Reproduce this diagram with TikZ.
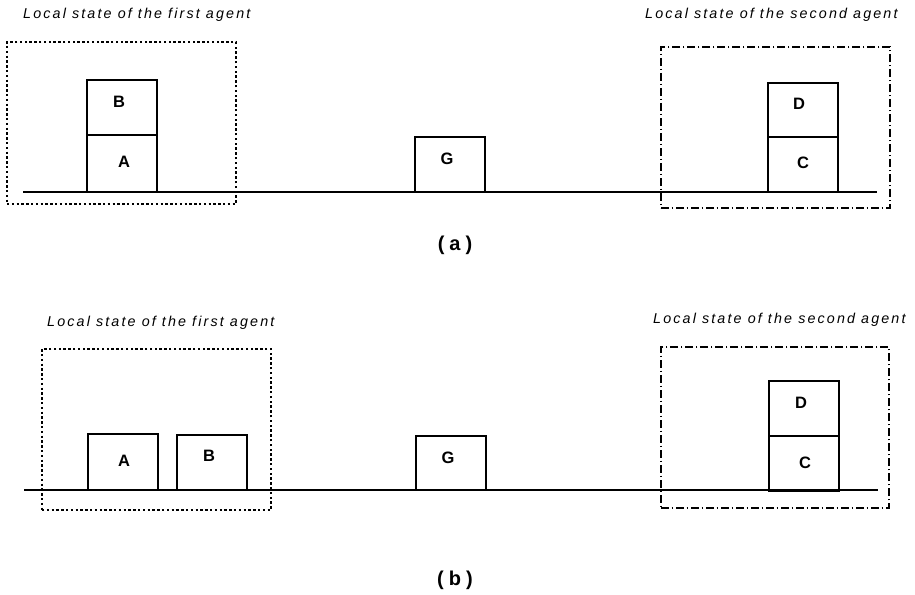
\documentclass[tikz,border=0pt]{standalone}
\usepackage{fontspec}
\setmainfont{Liberation Sans}
\newfontfamily\capfont[LetterSpace=15]{Liberation Sans}
\newfontfamily\tagfont[LetterSpace=25]{Liberation Sans}
\begin{document}
\begin{tikzpicture}[x=1pt,y=-1pt,
  blk/.style={draw,line width=1.3pt,inner sep=0pt,minimum width=70pt},
  blklabel/.style={inner sep=0pt,font=\bfseries\fontsize{16.5}{18}\selectfont},
  firstzone/.style={draw,line width=1.1pt,inner sep=0pt,dash pattern=on 2.4pt off 2.4pt},
  secondzone/.style={draw,line width=1.1pt,inner sep=0pt,dash pattern=on 8pt off 2.6pt on 1.8pt off 2.6pt},
  zonecap/.style={anchor=west,inner sep=0pt,font=\capfont\itshape\fontsize{14.3}{16}\selectfont},
  tag/.style={inner sep=0pt,font=\tagfont\bfseries\fontsize{20}{22}\selectfont},
  ground/.style={line width=1.3pt}]
\useasboundingbox (0,0) rectangle (915,594);

% ---------- (a) ----------
\node[zonecap] (capA1) at (23,15) {Local state of the first agent};
\node[zonecap] (capA2) at (645,15) {Local state of the second agent};
\node[firstzone,minimum width=229pt,minimum height=162pt] (zoneA1) at (121.5,123) {};
\node[secondzone,minimum width=229pt,minimum height=161pt] (zoneA2) at (775.5,127.5) {};

\coordinate (gAl) at (23,192);
\coordinate (gAr) at (877,192);
\draw[ground] (gAl) -- (gAr);

\node[blk,minimum height=56.5pt] (bA_A) at (122,163.5) {};
\node[blk,minimum height=55pt] (bA_B) at (122,107.5) {};
\node[blk,minimum height=54.8pt] (bA_G) at (450,164.4) {};
\node[blk,minimum height=54pt] (bA_D) at (803,110) {};
\node[blk,minimum height=54.8pt] (bA_C) at (803,164.4) {};
\node[blklabel] (tA_A) at (124,162) {A};
\node[blklabel] (tA_B) at (119,102) {B};
\node[blklabel] (tA_G) at (447,159) {G};
\node[blklabel] (tA_D) at (799,104) {D};
\node[blklabel] (tA_C) at (803,163) {C};
\node[tag] (tagA) at (455,245) {(a)};

% ---------- (b) ----------
\node[zonecap] (capB1) at (47,323) {Local state of the first agent};
\node[zonecap] (capB2) at (653,320) {Local state of the second agent};
\node[firstzone,minimum width=229pt,minimum height=161pt] (zoneB1) at (156.5,429.5) {};
\node[secondzone,minimum width=228pt,minimum height=161pt] (zoneB2) at (775,427.5) {};

\coordinate (gBl) at (24,490);
\coordinate (gBr) at (878,490);
\draw[ground] (gBl) -- (gBr);

\node[blk,minimum height=55.5pt] (bB_A) at (123,461.75) {};
\node[blk,minimum height=54.5pt] (bB_B) at (212,462.25) {};
\node[blk,minimum height=54pt] (bB_G) at (451,463) {};
\node[blk,minimum height=55pt] (bB_D) at (804,408.5) {};
\node[blk,minimum height=55pt] (bB_C) at (804,463.5) {};
\node[blklabel] (tB_A) at (124,461) {A};
\node[blklabel] (tB_B) at (209,456) {B};
\node[blklabel] (tB_G) at (448,458) {G};
\node[blklabel] (tB_D) at (801,403) {D};
\node[blklabel] (tB_C) at (805,463) {C};
\node[tag] (tagB) at (455,580) {(b)};
\end{tikzpicture}
\end{document}
